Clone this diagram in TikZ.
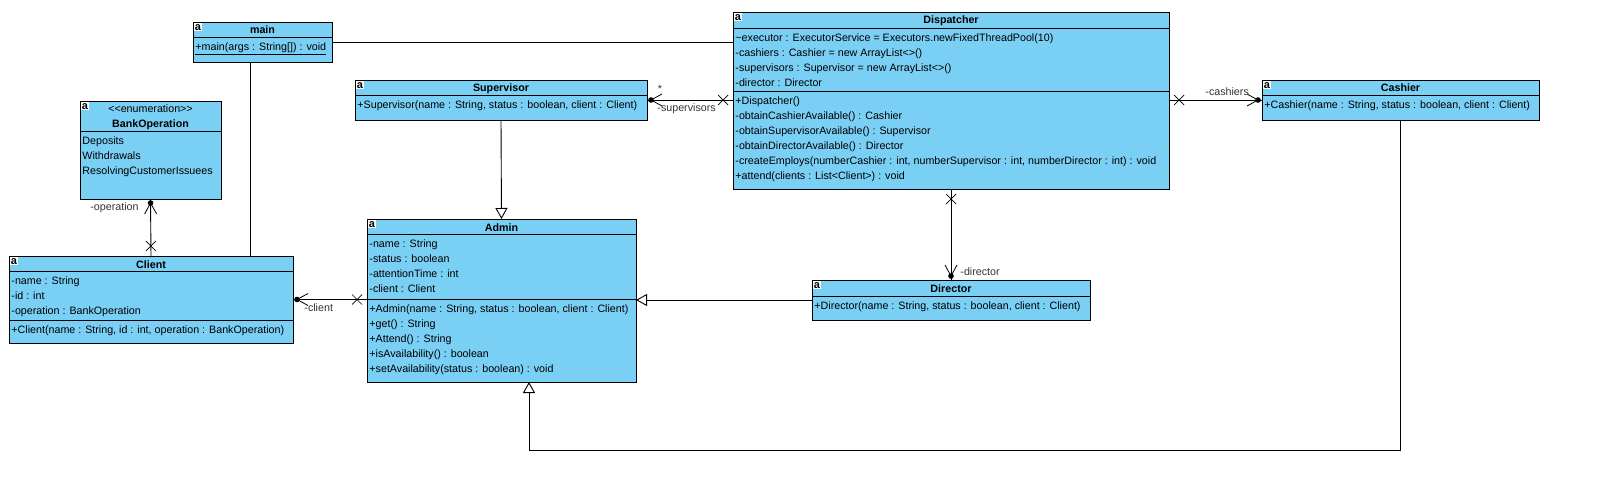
\documentclass[tikz,border=0pt]{standalone}
\usepackage{fontspec}
\setmainfont{Liberation Sans}
\usetikzlibrary{arrows.meta, decorations.markings}
\usetikzlibrary{positioning}
\definecolor{umlblue}{RGB}{122,207,245}

\begin{document}
\begin{tikzpicture}[x=1pt, y=-1pt, line width=0.9pt,
	cls/.style={draw, fill=umlblue, anchor=north west, inner sep=0pt, outer sep=0pt},
	ttl/.style={anchor=base, inner sep=0pt, font=\fontsize{10.7}{13}\selectfont\bfseries},
	txt/.style={anchor=north west, align=left, inner sep=0pt, font=\fontsize{10.7}{15}\selectfont},
	ico/.style={fill=white, anchor=north west, inner sep=0.4pt, text height=7pt, text depth=0.5pt, minimum width=8pt, font=\fontsize{11}{11}\selectfont\bfseries},
	lbl/.style={inner sep=0pt, text=black!80, font=\fontsize{10.7}{13}\selectfont},
	gen/.style={-{Triangle[open, length=11pt, width=12pt]}},
	assoc/.style={postaction={decorate}, decoration={markings,
		mark=at position 10pt with {\draw[line width=0.7pt] (-5pt,-5pt) -- (5pt,5pt) (-5pt,5pt) -- (5pt,-5pt);},
		mark=at position 1 with {\fill (-4pt,0) circle (2.8pt); \draw[line width=0.8pt] (-15pt,6pt) -- (-4pt,0) -- (-15pt,-6pt);}}}
	]
	\useasboundingbox (0,0) rectangle (1623,487);

	% main
	\node[cls, minimum width=139pt, minimum height=40pt] (main) at (193,22) {};
	\draw (193,37) -- (332,37);
	\node[ico] (main-i) at (193.5,22.5) {a};
	\node[ttl] (main-t) at (262.5,34) {main};
	\node[txt] (main-m) at (195,40) {\strut\underline{+main(args : String[]) : void}};

	% BankOperation
	\node[cls, minimum width=141pt, minimum height=98pt] (bank) at (80,101) {};
	\draw (80,131) -- (221,131);
	\node[ico] (bank-i) at (80.5,101.5) {a};
	\node[ttl, font=\fontsize{10.7}{13}\selectfont] (bank-s) at (150.5,113) {<{}<enumeration>{}>};
	\node[ttl] (bank-t) at (150.5,128) {BankOperation};
	\node[txt] (bank-a) at (82,134) {\strut Deposits\\Withdrawals\\ResolvingCustomerIssuees};

	% Client
	\node[cls, minimum width=284pt, minimum height=87pt] (client) at (9,256) {};
	\draw (9,271) -- (293,271);
	\draw (9,320) -- (293,320);
	\node[ico] (client-i) at (9.5,256.5) {a};
	\node[ttl] (client-t) at (151,268) {Client};
	\node[txt] (client-a) at (11,274) {\strut -name : String\\-id : int\\-operation : BankOperation};
	\node[txt] (client-m) at (11,323) {\strut +Client(name : String, id : int, operation : BankOperation)};

	% Supervisor
	\node[cls, minimum width=292pt, minimum height=40pt] (sup) at (355,80) {};
	\draw (355,95) -- (647,95);
	\node[ico] (sup-i) at (355.5,80.5) {a};
	\node[ttl] (sup-t) at (501,92) {Supervisor};
	\node[txt] (sup-m) at (357,98) {\strut +Supervisor(name : String, status : boolean, client : Client)};

	% Admin
	\node[cls, minimum width=269pt, minimum height=163pt] (admin) at (367,219) {};
	\draw (367,234) -- (636,234);
	\draw (367,299) -- (636,299);
	\node[ico] (admin-i) at (367.5,219.5) {a};
	\node[ttl] (admin-t) at (501.5,231) {Admin};
	\node[txt] (admin-a) at (369,237) {\strut -name : String\\-status : boolean\\-attentionTime : int\\-client : Client};
	\node[txt] (admin-m) at (369,302) {\strut +Admin(name : String, status : boolean, client : Client)\\+get() : String\\+Attend() : String\\+isAvailability() : boolean\\+setAvailability(status : boolean) : void};

	% Dispatcher
	\node[cls, minimum width=436pt, minimum height=177pt] (disp) at (733,12) {};
	\draw (733,28) -- (1169,28);
	\draw (733,91) -- (1169,91);
	\node[ico] (disp-i) at (733.5,12.5) {a};
	\node[ttl] (disp-t) at (951,24) {Dispatcher};
	\node[txt] (disp-a) at (735,31) {\strut \textasciitilde executor : ExecutorService = Executors.newFixedThreadPool(10)\\-cashiers : Cashier = new ArrayList<>()\\-supervisors : Supervisor = new ArrayList<>()\\-director : Director};
	\node[txt] (disp-m) at (735,94) {\strut +Dispatcher()\\-obtainCashierAvailable() : Cashier\\-obtainSupervisorAvailable() : Supervisor\\-obtainDirectorAvailable() : Director\\-createEmploys(numberCashier : int, numberSupervisor : int, numberDirector : int) : void\\+attend(clients : List<Client>) : void};

	% Cashier
	\node[cls, minimum width=277pt, minimum height=40pt] (cash) at (1262,80) {};
	\draw (1262,95) -- (1539,95);
	\node[ico] (cash-i) at (1262.5,80.5) {a};
	\node[ttl] (cash-t) at (1400.5,92) {Cashier};
	\node[txt] (cash-m) at (1264,98) {\strut +Cashier(name : String, status : boolean, client : Client)};

	% Director
	\node[cls, minimum width=278pt, minimum height=40pt] (dir) at (812,280) {};
	\draw (812,296) -- (1090,296);
	\node[ico] (dir-i) at (812.5,280.5) {a};
	\node[ttl] (dir-t) at (951,292) {Director};
	\node[txt] (dir-m) at (814,299) {\strut +Director(name : String, status : boolean, client : Client)};

	% plain links
	\draw (main.east) -- (main.east -| disp.west);
	\draw ([xshift=-12.5pt]main.south) -- ([xshift=-12.5pt]main.south |- client.north);

	% associations
	\draw[assoc] (client.north) -- (bank.south);
	\draw[assoc] (admin.west |- client.east) -- (client.east);
	\draw[assoc] (disp.west |- sup.east) -- (sup.east);
	\draw[assoc] (disp.east |- cash.west) -- (cash.west);
	\draw[assoc] (disp.south -| dir.north) -- (dir.north);

	\node[lbl, anchor=east] (l-op) at (139,208) {-operation};
	\node[lbl, anchor=west] (l-cl) at (304,308) {-client};
	\node[lbl] (l-star) at (660,89) {*};
	\node[lbl, anchor=west] (l-sup) at (657,109) {-supervisors};
	\node[lbl, anchor=west] (l-cash) at (1205,92) {-cashiers};
	\node[lbl, anchor=west] (l-dir) at (960,272) {-director};

	% generalizations
	\draw[gen] (sup.south) -- (admin.north);
	\draw[gen] (dir.west) -- (dir.west -| admin.east);
	\coordinate (turn) at (529,450);
	\draw[gen] (cash.south) |- (turn) -- (turn |- admin.south);
\end{tikzpicture}
\end{document}
